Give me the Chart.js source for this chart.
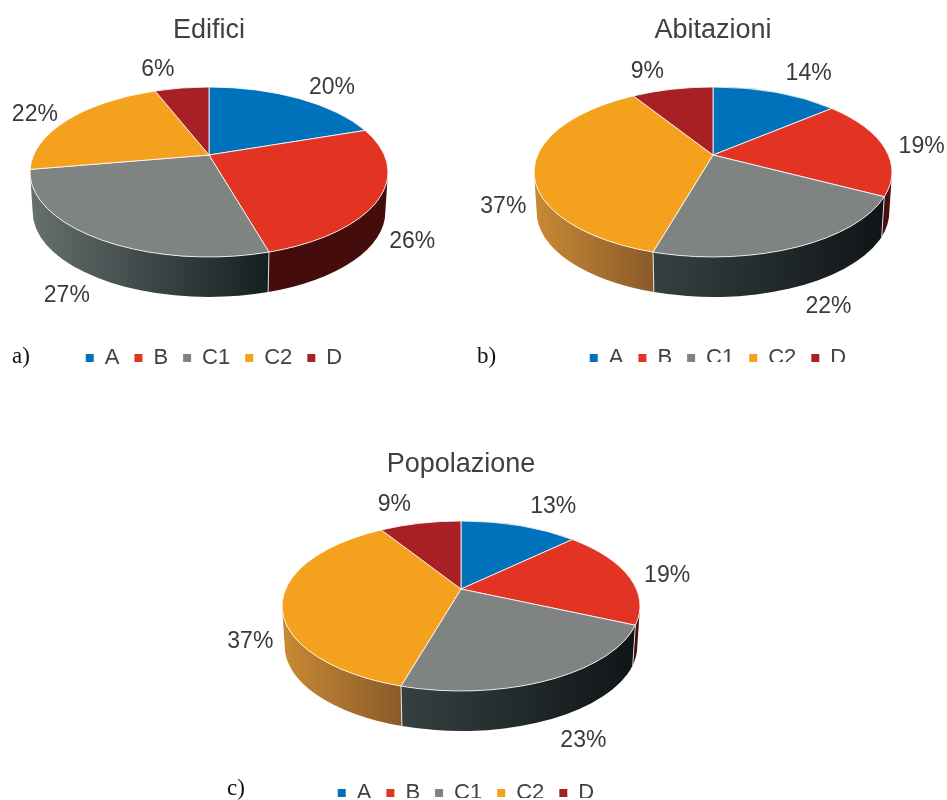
<!DOCTYPE html>
<html lang="en">

<head>
    <meta charset="UTF-8">
    <title>Edifici, abitazioni, popolazione</title>
    <style>
        html, body { margin: 0; height: 100%; overflow: hidden; background: #fff; }
        .panel { position: absolute; overflow: hidden; }
        .panel canvas { display: block; }
        .tag { position: absolute; font: 23px "Liberation Serif", serif; color: #111; }
    </style>
    <script src="https://cdn.jsdelivr.net/npm/chart.js@4/dist/chart.umd.js"></script>
</head>

<body>

    <div class="panel" style="left:-20px; top:0; width:458px; height:366px"><canvas id="chartA" width="458" height="400"></canvas></div>
    <div class="panel" style="left:470px; top:0; width:486px; height:362px"><canvas id="chartB" width="486" height="400"></canvas></div>
    <div class="panel" style="left:200px; top:434px; width:522px; height:364px"><canvas id="chartC" width="522" height="400"></canvas></div>

    <div class="tag" style="left:12px; top:343px">a)</div>
    <div class="tag" style="left:477px; top:343px">b)</div>
    <div class="tag" style="left:227px; top:775px">c)</div>

    <script>
        var categories = ['A', 'B', 'C1', 'C2', 'D'];
        var edificiValues = [20, 26, 27, 22, 6];
        var abitazioniValues = [14, 19, 22, 37, 9];
        var popolazioneValues = [13, 19, 23, 37, 9];

        var sliceColors = ['#0072bc', '#e23323', '#7f8483', '#f4a11d', '#a92024'];

        // side wall gradients, left to right, one pair per slice
        var wallsA = [['#003a60', '#003a60'], ['#440d0b', '#440d0b'], ['#66706f', '#141f1f'], ['#c98a33', '#8a5a2b'], ['#5a1012', '#5a1012']];
        var wallsB = [['#003a60', '#003a60'], ['#4a0f0f', '#4a0f0f'], ['#354141', '#101416'], ['#c98a33', '#8a5a2b'], ['#5a1012', '#5a1012']];

        // label offsets from the rim point at the middle of each slice
        var nudgesA = [[35, -10], [32, 45], [-30, 57], [-35, -4], [-24, -18]];
        var nudgesB = [[33, -19], [38, 0], [31, 60], [-31, 40], [-25, -18]];
        var nudgesC = [[34, -19], [39, 0], [32, 61], [-32, 41], [-26, -19]];

        // Draws the arcs computed by the pie controller as a tilted disc:
        // a circle seen in perspective stays an ellipse, but its centre moves.
        var tiltedPie = {
            id: 'tiltedPie',
            afterLayout: function (chart, args, opts) {
                chart.legend.left += opts.legendShift;
                chart.legend.right += opts.legendShift;
            },
            beforeDatasetsDraw: function (chart, args, opts) {
                var ctx = chart.ctx;
                var arcs = chart.getDatasetMeta(0).data;
                var values = chart.data.datasets[0].data;
                var cx = arcs[0].x;
                var cy = opts.centerY;
                var rx = arcs[0].outerRadius;
                var ry = rx * opts.tilt;
                var b = opts.lift;

                function project(angle) {
                    var u = Math.cos(angle), v = Math.sin(angle);
                    var den = 1 + b * v;
                    return { u: u * Math.sqrt(1 - b * b) / den, v: (v + b) / den };
                }
                function rimAngle(angle) {
                    var p = project(angle);
                    return Math.atan2(p.v, p.u);
                }
                function rimPoint(phi, dy, scale) {
                    return { x: cx + Math.cos(phi) * rx * scale, y: cy + dy + Math.sin(phi) * ry };
                }

                ctx.save();

                // side walls, only the part facing the viewer
                arcs.forEach(function (arc, i) {
                    var from = rimAngle(arc.startAngle);
                    var to = rimAngle(arc.endAngle);
                    while (to < from) to += Math.PI * 2;
                    var lo = Math.max(from, 0);
                    var hi = Math.min(to, Math.PI);
                    if (hi <= lo) return;
                    var a = rimPoint(hi, 0, 1), c = rimPoint(lo, 0, 1);
                    var grad = ctx.createLinearGradient(a.x, 0, c.x, 0);
                    grad.addColorStop(0, opts.walls[i][0]);
                    grad.addColorStop(1, opts.walls[i][1]);
                    ctx.beginPath();
                    ctx.ellipse(cx, cy, rx, ry, 0, lo, hi);
                    ctx.ellipse(cx, cy + opts.depth, rx * opts.baseScale, ry, 0, hi, lo, true);
                    ctx.closePath();
                    ctx.fillStyle = grad;
                    ctx.fill();
                    // seam where two walls meet
                    if (lo > 0 && lo < Math.PI) {
                        var s1 = rimPoint(lo, 0, 1), s2 = rimPoint(lo, opts.depth, opts.baseScale);
                        ctx.beginPath();
                        ctx.moveTo(s1.x, s1.y);
                        ctx.lineTo(s2.x, s2.y);
                        ctx.strokeStyle = 'rgba(255,255,255,0.8)';
                        ctx.lineWidth = 1;
                        ctx.stroke();
                    }
                });

                // top face
                var apex = { x: cx, y: cy + b * ry };
                arcs.forEach(function (arc) {
                    var from = rimAngle(arc.startAngle);
                    var to = rimAngle(arc.endAngle);
                    while (to < from) to += Math.PI * 2;
                    ctx.beginPath();
                    ctx.moveTo(apex.x, apex.y);
                    ctx.ellipse(cx, cy, rx, ry, 0, from, to);
                    ctx.closePath();
                    ctx.fillStyle = arc.options.backgroundColor;
                    ctx.fill();
                    ctx.strokeStyle = 'rgba(255,255,255,0.8)';
                    ctx.lineWidth = 1;
                    ctx.stroke();
                });

                // percentage labels
                ctx.font = '23px "Liberation Sans", Arial, sans-serif';
                ctx.fillStyle = '#3a3a3a';
                ctx.textAlign = 'center';
                ctx.textBaseline = 'middle';
                arcs.forEach(function (arc, i) {
                    var p = rimPoint(rimAngle((arc.startAngle + arc.endAngle) / 2), 0, 1);
                    ctx.fillText(values[i] + '%', p.x + opts.nudges[i][0], p.y + opts.nudges[i][1]);
                });

                ctx.restore();
                return false;
            }
        };

        function createChart(id, title, values, walls, nudges, bottomPad) {
            var ctx = document.getElementById(id).getContext('2d');
            return new Chart(ctx, {
                type: 'pie',
                data: {
                    labels: categories,
                    datasets: [{ data: values, backgroundColor: sliceColors, borderWidth: 0 }]
                },
                options: {
                    responsive: false,
                    animation: false,
                    radius: 179,
                    layout: { padding: { bottom: bottomPad } },
                    plugins: {
                        title: {
                            display: true,
                            text: title,
                            color: '#404040',
                            font: { family: '"Liberation Sans", Arial, sans-serif', size: 27, weight: 'normal' },
                            padding: { top: 14, bottom: 4 }
                        },
                        legend: {
                            position: 'bottom',
                            labels: {
                                boxWidth: 8,
                                boxHeight: 8,
                                padding: 15,
                                color: '#404040',
                                font: { family: '"Liberation Sans", Arial, sans-serif', size: 22 }
                            }
                        },
                        tooltip: { enabled: false },
                        tiltedPie: {
                            tilt: 85 / 179,
                            lift: -0.2,
                            depth: 40,
                            baseScale: 0.985,
                            centerY: 172,
                            legendShift: 5,
                            walls: walls,
                            nudges: nudges
                        }
                    }
                },
                plugins: [tiltedPie]
            });
        }

        createChart('chartA', 'Edifici', edificiValues, wallsA, nudgesA, 21);
        createChart('chartB', 'Abitazioni', abitazioniValues, wallsB, nudgesB, 21);
        createChart('chartC', 'Popolazione', popolazioneValues, wallsB, nudgesC, 20);
    </script>
</body>

</html>
